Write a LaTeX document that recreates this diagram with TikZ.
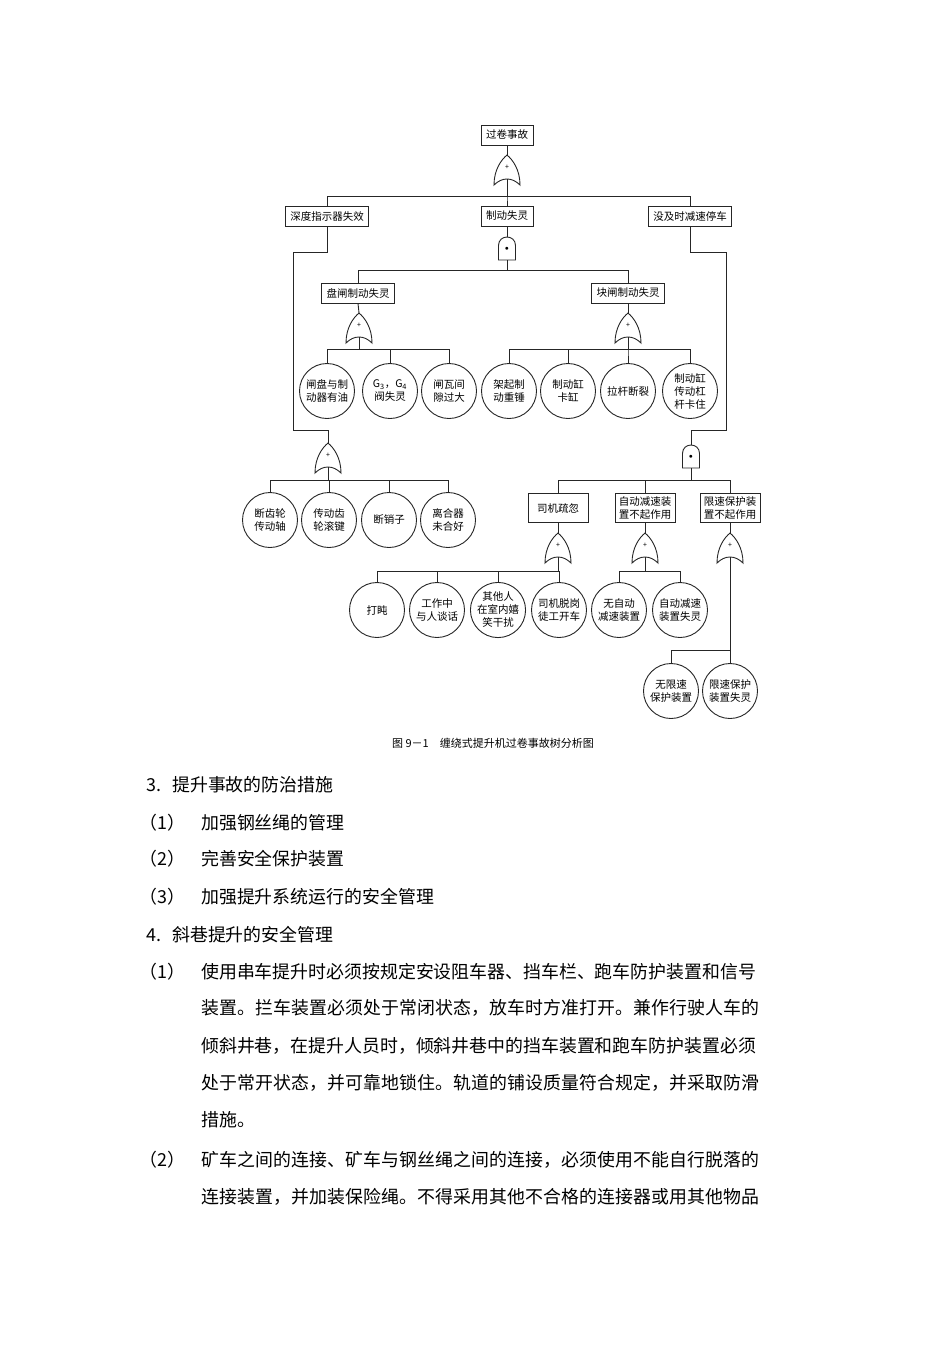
\documentclass[tikz,border=0pt]{standalone}
\usepackage{fontspec}
\setmainfont{Noto Sans CJK SC}
\newfontfamily\cjkls[LetterSpace=0.6]{Noto Sans CJK SC}
\usetikzlibrary{calc}
\tikzset{
  ln/.style={line width=0.9pt, draw=black!85},
  evbox/.style={draw=black!85, line width=0.9pt, inner xsep=5pt, inner ysep=0pt, minimum height=20pt, font=\fontsize{10.5}{12}\selectfont},
  evboxtwo/.style={evbox, minimum width=60pt, minimum height=29pt, inner xsep=3pt, align=center, font=\fontsize{10.5}{12.5}\selectfont},
  basic/.style={circle, draw=black!85, line width=0.9pt, minimum size=55pt, inner sep=0pt, align=center, font=\fontsize{10.5}{13}\selectfont},
  orgate/.style={minimum width=26pt, minimum height=24pt, inner sep=0pt, font=\fontsize{7}{7}\selectfont},
  andgate/.style={minimum width=17pt, minimum height=23pt, inner sep=0pt, font=\fontsize{7}{7}\selectfont},
  body/.style={anchor=base west, inner sep=0pt, font=\fontsize{17.9}{18}\selectfont},
  capt/.style={inner sep=0pt, font=\fontsize{11}{13}\selectfont},
}
\newcommand\drawOR[1]{\draw[ln] ($(#1)+(-13,18)$) .. controls ($(#1)+(-13,3)$) and ($(#1)+(-6,-7)$) .. ($(#1)+(0,-12)$) .. controls ($(#1)+(6,-7)$) and ($(#1)+(13,3)$) .. ($(#1)+(13,18)$) .. controls ($(#1)+(5,10)$) and ($(#1)+(-5,10)$) .. cycle;}
\newcommand\drawAND[1]{\draw[ln] ($(#1)+(-8.5,11.5)$) -- ($(#1)+(-8.5,-3)$) .. controls ($(#1)+(-8.5,-14.3)$) and ($(#1)+(8.5,-14.3)$) .. ($(#1)+(8.5,-3)$) -- ($(#1)+(8.5,11.5)$) -- cycle;}
\begin{document}
\begin{tikzpicture}[x=1pt,y=-1pt]
\useasboundingbox (0,0) rectangle (950,1345);
\fill[white] (0,0) rectangle (950,1345);

% event boxes
\node[evbox] (top) at (507,135) {过卷事故};
\node[evbox] (deep) at (327,216) {深度指示器失效};
\node[evbox] (brake) at (507,216) {制动失灵};
\node[evbox] (late) at (690,216) {没及时减速停车};
\node[evbox] (disc) at (358,293) {盘闸制动失灵};
\node[evbox] (block) at (628,293) {块闸制动失灵};
\node[evboxtwo] (drv) at (558,508) {司机疏忽};
\node[evboxtwo] (auto) at (645,508) {自动减速装\\置不起作用};
\node[evboxtwo] (lim) at (730,508) {限速保护装\\置不起作用};

% gates
\node[orgate] (g1) at (507,167) {+};
\node[andgate] (g2) at (507,248.5) {$\bullet$};
\node[orgate] (g3) at (359,325) {+};
\node[orgate] (g4) at (628,325) {+};
\node[orgate] (g5) at (328,455) {+};
\node[andgate] (g6) at (691,456.5) {$\bullet$};
\node[orgate] (g7) at (558,545) {+};
\node[orgate] (g8) at (645,545) {+};
\node[orgate] (g9) at (730,545) {+};
\drawOR{g1}\drawAND{g2}\drawOR{g3}\drawOR{g4}\drawOR{g5}\drawAND{g6}\drawOR{g7}\drawOR{g8}\drawOR{g9}

% basic events
\node[basic] (a1) at (327,391) {闸盘与制\\动器有油};
\node[basic] (a2) at (390,391) {G\textsubscript{3}，G\textsubscript{4}\\阀失灵};
\node[basic] (a3) at (449,391) {闸瓦间\\隙过大};
\node[basic] (a4) at (509,391) {架起制\\动重锤};
\node[basic] (a5) at (568,391) {制动缸\\卡缸};
\node[basic] (a6) at (628,391) {拉杆断裂};
\node[basic] (a7) at (690,391) {制动缸\\传动杠\\杆卡住};
\node[basic] (b1) at (270,520) {断齿轮\\传动轴};
\node[basic] (b2) at (329,520) {传动齿\\轮滚键};
\node[basic] (b3) at (389,520) {断销子};
\node[basic] (b4) at (448,520) {离合器\\未合好};
\node[basic] (c1) at (377,610) {打盹};
\node[basic] (c2) at (437,610) {工作中\\与人谈话};
\node[basic] (c3) at (498,610) {其他人\\在室内嬉\\笑干扰};
\node[basic] (c4) at (559,610) {司机脱岗\\徒工开车};
\node[basic] (c5) at (619,610) {无自动\\减速装置};
\node[basic] (c6) at (680,610) {自动减速\\装置失灵};
\node[basic] (d1) at (671,691) {无限速\\保护装置};
\node[basic] (d2) at (730,691) {限速保护\\装置失灵};

\coordinate (k1) at (293,252);
\coordinate (k2) at (293,430);
\coordinate (k3) at (726,252);
\coordinate (k4) at (726,430);

% connectors
\draw[ln] (top.south) -- (g1.north);
\foreach \c in {deep,brake,late} \draw[ln] (g1.south) -- ++(0,17) -| (\c.north);
\draw[ln] (brake.south) -- (g2.north);
\foreach \c in {disc,block} \draw[ln] (g2.south) -- ++(0,10) -| (\c.north);
\draw[ln] (disc.south) -- (g3.north);
\draw[ln] (block.south) -- (g4.north);
\foreach \c in {a1,a2,a3} \draw[ln] (g3.south) -- ++(0,12) -| (\c.north);
\foreach \c in {a4,a5,a6,a7} \draw[ln] (g4.south) -- ++(0,12) -| (\c.north);
\draw[ln] (deep.south) |- (k1) -- (k2) -| (g5.north);
\foreach \c in {b1,b2,b3,b4} \draw[ln] (g5.south) -- ++(0,13) -| (\c.north);
\draw[ln] (late.south) |- (k3) -- (k4) -| (g6.north);
\foreach \c in {drv,auto,lim} \draw[ln] (g6.south) -- ++(0,12) -| (\c.north);
\draw[ln] (drv.south) -- (g7.north);
\draw[ln] (auto.south) -- (g8.north);
\draw[ln] (lim.south) -- (g9.north);
\foreach \c in {c1,c2,c3,c4} \draw[ln] (g7.south) -- ++(0,14) -| (\c.north);
\foreach \c in {c5,c6} \draw[ln] (g8.south) -- ++(0,14) -| (\c.north);
\draw[ln] (g9.south) -- (d2.north);
\draw[ln] (g9.south) -- ++(0,93) -| (d1.north);

\node[capt] (cap) at (493,743) {图 9－1\quad 缠绕式提升机过卷事故树分析图};

% body text
\node[body] (n1) at (146,791) {3.};
\node[body] (t1) at (172,791) {提升事故的防治措施};
\node[body] (n2) at (139,829) {（1）};
\node[body] (t2) at (201,829) {加强钢丝绳的管理};
\node[body] (n3) at (139,865) {（2）};
\node[body] (t3) at (201,865) {完善安全保护装置};
\node[body] (n4) at (139,903) {（3）};
\node[body] (t4) at (201,903) {加强提升系统运行的安全管理};
\node[body] (n5) at (146,941) {4.};
\node[body] (t5) at (172,941) {斜巷提升的安全管理};
\node[body] (n6) at (139,978) {（1）};
\node[body] (t6) at (201,978) {使用串车提升时必须按规定安设阻车器、挡车栏、跑车防护装置和信号};
\node[body] (t7) at (201,1014) {\cjkls 装置。拦车装置必须处于常闭状态，放车时方准打开。兼作行驶人车的};
\node[body] (t8) at (201,1052) {倾斜井巷，在提升人员时，倾斜井巷中的挡车装置和跑车防护装置必须};
\node[body] (t9) at (201,1089) {\cjkls 处于常开状态，并可靠地锁住。轨道的铺设质量符合规定，并采取防滑};
\node[body] (t10) at (201,1126) {措施。};
\node[body] (n11) at (139,1166) {（2）};
\node[body] (t11) at (201,1166) {\cjkls 矿车之间的连接、矿车与钢丝绳之间的连接，必须使用不能自行脱落的};
\node[body] (t12) at (201,1203) {\cjkls 连接装置，并加装保险绳。不得采用其他不合格的连接器或用其他物品};
\end{tikzpicture}
\end{document}
